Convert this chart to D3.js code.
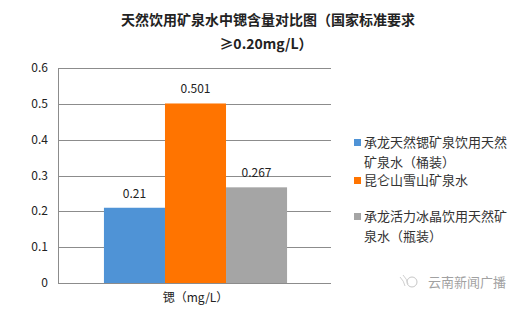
<!DOCTYPE html>
<html>
  <head>
    <meta charset="utf-8">
    <script src="https://d3js.org/d3.v7.min.js"></script>
    <style>
      body { margin: 0; background: #fff; }
      text { font-family: "Noto Sans CJK SC", "Noto Sans", sans-serif; fill: #222; }
      .grid line { stroke: #8c8c8c; }
    </style>
  </head>
  <body>
    <svg id="chart" width="524" height="311"></svg>
    <script>
      var category = "锶（mg/L）";
      var seriesNames = ["承龙天然锶矿泉饮用天然矿泉水（桶装）", "昆仑山雪山矿泉水", "承龙活力冰晶饮用天然矿泉水（瓶装）"];
      var seriesValues = [0.21, 0.501, 0.267];
      var valueLabels = ["0.21", "0.501", "0.267"];
      var yTicks = [0, 0.1, 0.2, 0.3, 0.4, 0.5, 0.6];
      var colors = ["#4f93d6", "#ff7400", "#a5a5a5"];
      // legend lines, wrapped as in the original
      var legendLines = [["承龙天然锶矿泉饮用天然", "矿泉水（桶装）"], ["昆仑山雪山矿泉水"], ["承龙活力冰晶饮用天然矿", "泉水（瓶装）"]];

      var svg = d3.select("#chart");
      var plotLeft = 58, plotRight = 331, plotTop = 68, plotBottom = 283;

      var y = d3.scaleLinear().domain([0, 0.6]).range([plotBottom, plotTop]);
      var x0 = d3.scaleBand().domain([category]).range([plotLeft + 2, plotRight]).paddingInner(0).paddingOuter(0.24);
      var x1 = d3.scaleBand().domain(seriesNames).range([0, x0.bandwidth()]);

      // title
      svg.append("text").attr("x", 268).attr("y", 25).attr("text-anchor", "middle")
        .style("font-size", "14px").style("font-weight", "bold").text("天然饮用矿泉水中锶含量对比图（国家标准要求");
      svg.append("text").attr("x", 266).attr("y", 49).attr("text-anchor", "middle")
        .style("font-size", "14px").style("font-weight", "bold").text("≥0.20mg/L）");

      // gridlines
      svg.append("g").attr("class", "grid")
        .selectAll("line").data(yTicks).enter().append("line")
          .attr("x1", plotLeft).attr("x2", plotRight)
          .attr("y1", d => Math.round(y(d)) + 0.5).attr("y2", d => Math.round(y(d)) + 0.5);
      svg.append("line").attr("x1", plotLeft + 0.5).attr("x2", plotLeft + 0.5)
        .attr("y1", plotTop).attr("y2", plotBottom).style("stroke", "#8c8c8c");

      // y axis labels
      svg.append("g").selectAll("text").data(yTicks).enter().append("text")
        .attr("x", 48).attr("y", d => y(d) + 4).attr("text-anchor", "end")
        .style("font-size", "12px").text(d => d);

      // bars
      var g = svg.append("g").attr("transform", `translate(${x0(category)},0)`);
      g.selectAll("rect").data(seriesValues).enter().append("rect")
        .attr("x", (d, i) => x1(seriesNames[i]))
        .attr("width", x1.bandwidth())
        .attr("y", d => y(d))
        .attr("height", d => plotBottom - y(d))
        .style("fill", (d, i) => colors[i]);
      g.selectAll("text.val").data(seriesValues).enter().append("text")
        .attr("class", "val")
        .attr("x", (d, i) => x1(seriesNames[i]) + x1.bandwidth() / 2)
        .attr("y", d => y(d) - 10).attr("text-anchor", "middle")
        .style("font-size", "12px").text((d, i) => valueLabels[i]);

      // x label
      svg.append("text").attr("x", x0(category) + x0.bandwidth() / 2).attr("y", 302)
        .attr("text-anchor", "middle").style("font-size", "12px").text(category);

      // legend
      var legendY = [147, 185, 221];
      var leg = svg.append("g").selectAll("g").data(seriesNames).enter().append("g")
        .attr("transform", (d, i) => `translate(354,${legendY[i]})`);
      leg.append("rect").attr("x", 0).attr("y", -8).attr("width", 7).attr("height", 7)
        .style("fill", (d, i) => colors[i]);
      leg.each(function (d, i) {
        d3.select(this).selectAll("text").data(legendLines[i]).enter().append("text")
          .attr("x", 10).attr("y", (t, j) => j * 20)
          .style("font-size", "13px").style("fill", "#333").text(t => t);
      });

      // watermark
      var wm = svg.append("g").attr("transform", "translate(412,286)").style("opacity", 0.55);
      wm.append("circle").attr("cx", 0).attr("cy", -4).attr("r", 5).style("fill", "none").style("stroke", "#999");
      wm.append("path").attr("d", "M-12,-9 q4,4 5,9 M-9,-11 q4,4 5,9").style("fill", "none").style("stroke", "#aaa");
      wm.append("text").attr("x", 16).attr("y", 1).style("font-size", "13px").style("fill", "#555").text("云南新闻广播");
    </script>
  </body>
</html>
